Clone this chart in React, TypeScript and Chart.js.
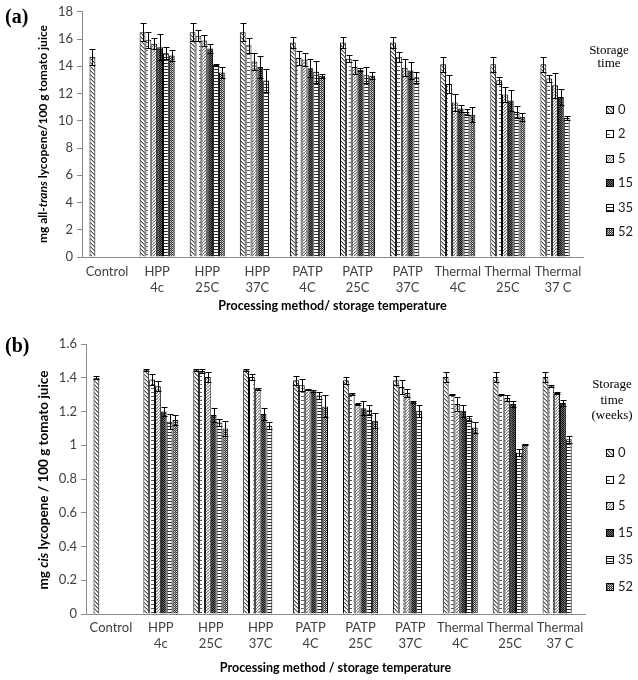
import React, { useEffect, useRef } from "react";
import { Chart, registerables } from "chart.js";

Chart.register(...registerables);

// ---------- data ----------
const categoryLabels = [
  ["Control"],
  ["HPP", "4c"],
  ["HPP", "25C"],
  ["HPP", "37C"],
  ["PATP", "4C"],
  ["PATP", "25C"],
  ["PATP", "37C"],
  ["Thermal", "4C"],
  ["Thermal", "25C"],
  ["Thermal", "37 C"],
];
const storageWeeks = ["0", "2", "5", "15", "35", "52"];

// (a) all-trans lycopene, mg/100 g
const transW0 = [14.7, 16.5, 16.5, 16.5, 15.75, 15.75, 15.75, 14.15, 14.15, 14.15];
const transW2 = [null, 15.95, 16.25, 15.55, 14.6, 14.55, 14.7, 12.7, 12.97, 13.1];
const transW5 = [null, 15.65, 15.9, 14.35, 14.5, 13.95, 13.9, 11.35, 11.93, 12.6];
const transW15 = [null, 15.4, 15.3, 13.95, 13.85, 13.75, 13.7, 10.9, 11.48, 11.75];
const transW35 = [null, 14.95, 14.1, 12.95, 13.6, 13.35, 13.2, 10.65, 10.65, 10.2];
const transW52 = [null, 14.8, 13.55, null, 13.3, 13.3, null, 10.45, 10.3, null];
const transE0 = [0.6, 0.65, 0.65, 0.65, 0.4, 0.4, 0.4, 0.55, 0.55, 0.55];
const transE2 = [0, 0.6, 0.4, 0.55, 0.5, 0.25, 0.35, 0.65, 0.25, 0.25];
const transE5 = [0, 0.4, 0.4, 0.6, 0.45, 0.5, 0.6, 0.6, 0.55, 0.9];
const transE15 = [0, 0.95, 0.35, 0.8, 0.65, 0.1, 0.6, 0.25, 0.75, 0.6];
const transE35 = [0, 0.45, 0.1, 0.85, 0.8, 0.6, 0.4, 0.25, 0.45, 0.15];
const transE52 = [0, 0.4, 0.4, 0, 0.15, 0.25, 0, 0.55, 0.3, 0];

// (b) cis lycopene, mg/100 g
const cisW0 = [1.4, 1.445, 1.445, 1.445, 1.385, 1.385, 1.385, 1.405, 1.405, 1.405];
const cisW2 = [null, 1.39, 1.44, 1.405, 1.355, 1.305, 1.345, 1.3, 1.3, 1.35];
const cisW5 = [null, 1.35, 1.405, 1.335, 1.33, 1.245, 1.31, 1.245, 1.28, 1.31];
const cisW15 = [null, 1.2, 1.18, 1.185, 1.32, 1.22, 1.258, 1.205, 1.245, 1.25];
const cisW35 = [null, 1.14, 1.135, 1.115, 1.295, 1.21, 1.205, 1.16, 0.955, 1.035];
const cisW52 = [null, 1.15, 1.1, null, 1.23, 1.145, null, 1.105, 1.005, null];
const cisE0 = [0.01, 0.005, 0.005, 0.005, 0.025, 0.02, 0.025, 0.03, 0.03, 0.03];
const cisE2 = [0, 0.03, 0.01, 0.02, 0.035, 0.005, 0.04, 0.005, 0.005, 0.005];
const cisE5 = [0, 0.03, 0.03, 0.005, 0.005, 0.005, 0.025, 0.04, 0.02, 0.005];
const cisE15 = [0, 0.025, 0.04, 0.035, 0.005, 0.04, 0.005, 0.035, 0.02, 0.02];
const cisE35 = [0, 0.045, 0.02, 0.02, 0.02, 0.03, 0.035, 0.015, 0.02, 0.02];
const cisE52 = [0, 0.03, 0.045, 0, 0.065, 0.045, 0, 0.035, 0.005, 0];

// ---------- patterns ----------
function tile(w: number, h: number, pix: (x: number, y: number) => string | null) {
  const c = document.createElement("canvas");
  c.width = w;
  c.height = h;
  const g = c.getContext("2d")!;
  g.fillStyle = "#fff";
  g.fillRect(0, 0, w, h);
  for (let y = 0; y < h; y++)
    for (let x = 0; x < w; x++) {
      const col = pix(x, y);
      if (col) {
        g.fillStyle = col;
        g.fillRect(x, y, 1, 1);
      }
    }
  const ctx = document.createElement("canvas").getContext("2d")!;
  return ctx.createPattern(c, "repeat")!;
}

function makePatterns() {
  return [
    // 0 weeks: diagonal hatch
    tile(4, 4, (x, y) => (x === y ? "#4a4a4a" : (x + 1) % 4 === y ? "#b0b0b0" : null)),
    // 2 weeks: white with short dashes
    tile(6, 4, (x, y) => (y === 2 && x >= 1 && x <= 3 ? "#555" : null)),
    // 5 weeks: light speckle
    tile(3, 3, (x, y) => ((x + y) % 3 === 0 ? "#7a7a7a" : (x + 2 * y) % 3 === 1 ? "#c8c8c8" : null)),
    // 15 weeks: dark checker
    tile(2, 2, (x, y) => ((x + y) % 2 === 0 ? "#111" : "#6a6a6a")),
    // 35 weeks: horizontal lines
    tile(1, 3, (x, y) => (y === 0 ? "#2a2a2a" : null)),
    // 52 weeks: medium checker
    tile(4, 4, (x, y) => ((x + y) % 2 === 0 ? "#333" : (x % 2 === 0 ? "#ddd" : "#999"))),
  ];
}

// ---------- plugins ----------
const errorBarPlugin = {
  id: "errorBars",
  afterDatasetsDraw(chart: any, _args: any, opts: any) {
    const errs = opts.errors;
    if (!errs) return;
    const ctx = chart.ctx;
    const ys = chart.scales.y;
    ctx.save();
    ctx.strokeStyle = "#000";
    ctx.lineWidth = 1;
    chart.data.datasets.forEach((ds: any, i: number) => {
      const meta = chart.getDatasetMeta(i);
      meta.data.forEach((el: any, j: number) => {
        const v = ds.data[j];
        if (v == null) return;
        const e = errs[i][j];
        if (!e) return;
        const x = Math.round(el.x) + 0.5;
        const yt = Math.round(ys.getPixelForValue(v + e)) + 0.5;
        const yb = Math.round(ys.getPixelForValue(v - e)) + 0.5;
        const hw = 3;
        ctx.beginPath();
        ctx.moveTo(x, yt);
        ctx.lineTo(x, yb);
        ctx.moveTo(x - hw, yt);
        ctx.lineTo(x + hw, yt);
        ctx.moveTo(x - hw, yb);
        ctx.lineTo(x + hw, yb);
        ctx.stroke();
      });
    });
    ctx.restore();
  },
};

const patternLegendPlugin = {
  id: "patternLegend",
  afterDraw(chart: any, _args: any, opts: any) {
    if (!opts.titleLines) return;
    const ctx = chart.ctx;
    ctx.save();
    ctx.fillStyle = "#000";
    ctx.font = '13px "Liberation Serif", "Times New Roman", serif';
    ctx.textAlign = "center";
    ctx.textBaseline = "middle";
    opts.titleLines.forEach((t: string, k: number) => ctx.fillText(t, opts.titleX, opts.titleY0 + k * opts.titleGap));
    chart.data.datasets.forEach((ds: any, i: number) => {
      const cy = Math.round(opts.itemY0 + i * opts.itemGap);
      ctx.fillStyle = ds.backgroundColor;
      ctx.fillRect(opts.boxX, cy - 4, 8, 8);
      ctx.strokeStyle = "#000";
      ctx.lineWidth = 1;
      ctx.strokeRect(opts.boxX + 0.5, cy - 3.5, 7, 7);
      ctx.fillStyle = "#222";
      ctx.font = "13px Lato, sans-serif";
      ctx.textAlign = "left";
      ctx.fillText(ds.label, opts.textX, cy);
    });
    ctx.restore();
  },
};

// ---------- chart component ----------
type PanelProps = {
  width: number;
  height: number;
  values: (number | null)[][];
  errors: number[][];
  yMax: number;
  yStep: number;
  xTitle: string;
  yWidth: number;
  xHeight: number;
  padTop: number;
  padRight: number;
  xTitlePadBottom: number;
  tickPad: number;
  legend: any;
  fmt: (v: number) => string;
};

function Panel(p: PanelProps) {
  const ref = useRef<HTMLCanvasElement>(null);
  useEffect(() => {
    const patterns = makePatterns();
    const chart = new Chart(ref.current!, {
      type: "bar",
      data: {
        labels: categoryLabels,
        datasets: storageWeeks.map((w, i) => ({
          label: w,
          data: p.values[i],
          backgroundColor: patterns[i],
          borderColor: "#000",
          borderWidth: 1,
          categoryPercentage: 0.7,
          barPercentage: 1,
        })),
      },
      options: {
        responsive: false,
        animation: false,
        devicePixelRatio: 1,
        layout: { padding: { top: p.padTop, right: p.padRight, left: 0, bottom: 0 } },
        plugins: {
          legend: { display: false },
          tooltip: { enabled: false },
          errorBars: { errors: p.errors },
          patternLegend: p.legend,
        } as any,
        scales: {
          x: {
            grid: { display: false, drawTicks: false },
            border: { display: true, color: "#8a8a8a" },
            ticks: {
              color: "#404040",
              font: { family: "Lato", size: 13 },
              padding: p.tickPad,
              maxRotation: 0,
              autoSkip: false,
            },
            title: {
              display: true,
              text: p.xTitle,
              color: "#000",
              font: { family: "Lato", size: 12.5, weight: "bold" },
              padding: { top: 0, bottom: p.xTitlePadBottom },
            },
            afterFit: (s: any) => {
              s.height = p.xHeight;
            },
          },
          y: {
            min: 0,
            max: p.yMax,
            ticks: {
              stepSize: p.yStep,
              color: "#404040",
              font: { family: "Lato", size: 13 },
              padding: 4,
              callback: (v: any) => p.fmt(Number(v)),
            },
            grid: { display: true, drawOnChartArea: false, drawTicks: true, tickLength: 5, color: "#8a8a8a" },
            border: { display: true, color: "#8a8a8a" },
            afterFit: (s: any) => {
              s.width = p.yWidth;
            },
          },
        },
      } as any,
      plugins: [errorBarPlugin, patternLegendPlugin],
    });
    return () => chart.destroy();
  }, []);
  return <canvas ref={ref} width={p.width} height={p.height} style={{ display: "block" }} />;
}

const panelLabel: React.CSSProperties = {
  position: "absolute",
  left: 5,
  fontFamily: '"Liberation Serif", "Times New Roman", serif',
  fontWeight: "bold",
  fontSize: 20,
  lineHeight: "20px",
};

const yTitle: React.CSSProperties = {
  position: "absolute",
  transform: "translate(-50%, -50%) rotate(-90deg)",
  whiteSpace: "nowrap",
  fontFamily: "Lato, sans-serif",
  fontWeight: "bold",
  color: "#000",
};

export default function App() {
  return (
    <div style={{ position: "absolute", left: 0, top: 0, width: 638, height: 680, background: "#fff", overflow: "hidden" }}>
      <div style={{ position: "absolute", left: 0, top: 0 }}>
        <Panel
          width={638}
          height={330}
          values={[transW0, transW2, transW5, transW15, transW35, transW52]}
          errors={[transE0, transE2, transE5, transE15, transE35, transE52]}
          yMax={18}
          yStep={2}
          xTitle="Processing method/ storage temperature"
          yWidth={82}
          xHeight={73}
          padTop={11}
          padRight={55}
          xTitlePadBottom={17}
          tickPad={7}
          fmt={(v) => String(v)}
          legend={{
            titleLines: ["Storage", "time"],
            titleX: 609,
            titleY0: 51,
            titleGap: 13,
            boxX: 606,
            textX: 618,
            itemY0: 110,
            itemGap: 24.4,
          }}
        />
      </div>
      <div style={{ position: "absolute", left: 0, top: 330 }}>
        <Panel
          width={638}
          height={350}
          values={[cisW0, cisW2, cisW5, cisW15, cisW35, cisW52]}
          errors={[cisE0, cisE2, cisE5, cisE15, cisE35, cisE52]}
          yMax={1.6}
          yStep={0.2}
          xTitle="Processing method / storage temperature"
          yWidth={86}
          xHeight={66}
          padTop={14}
          padRight={53}
          xTitlePadBottom={5}
          tickPad={6}
          fmt={(v) => String(Number(v.toFixed(1)))}
          legend={{
            titleLines: ["Storage", "time", "(weeks)"],
            titleX: 612,
            titleY0: 55,
            titleGap: 15.5,
            boxX: 606,
            textX: 618,
            itemY0: 122.7,
            itemGap: 26.8,
          }}
        />
      </div>
      <div style={{ ...panelLabel, top: 6 }}>(a)</div>
      <div style={{ ...panelLabel, top: 335 }}>(b)</div>
      <div style={{ ...yTitle, left: 42, top: 134, fontSize: 12 }}>
        mg all-<i>trans</i> lycopene/100 g tomato juice
      </div>
      <div style={{ ...yTitle, left: 43, top: 480, fontSize: 13.5 }}>
        mg <i>cis</i> lycopene / 100 g tomato juice
      </div>
    </div>
  );
}
